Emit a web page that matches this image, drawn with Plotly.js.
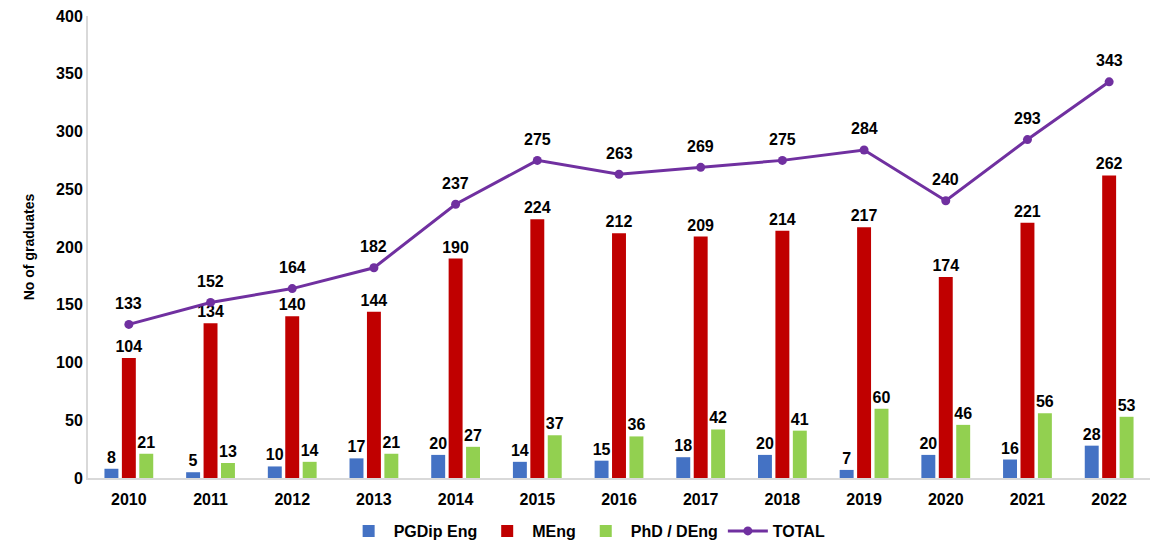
<!DOCTYPE html>
<html><head><meta charset="utf-8">
<script src="https://cdn.plot.ly/plotly-3.0.1.min.js"></script>
<style>html,body{margin:0;padding:0;background:#fff}#chart{width:1152px;height:545px}</style>
</head><body><div id="chart"></div>
<script>
const years = ['2010','2011','2012','2013','2014','2015','2016','2017','2018','2019','2020','2021','2022'];
const pgdip = [8,5,10,17,20,14,15,18,20,7,20,16,28];
const meng = [104,134,140,144,190,224,212,209,214,217,174,221,262];
const phd = [21,13,14,21,27,37,36,42,41,60,46,56,53];
const total = [133,152,164,182,237,275,263,269,275,284,240,293,343];

const F = 'Liberation Sans, Arial, sans-serif';
const lblFont = {family: F, size: 16, color: '#000', weight: 'bold'};
function barTrace(name, vals, color){
  return {type:'bar', name:name, x:years, y:vals, marker:{color:color},
    text: vals.map(String), textposition:'outside', textfont:lblFont,
    constraintext:'none', cliponaxis:false};
}
const data = [
  barTrace('PGDip Eng', pgdip, '#4472C4'),
  barTrace('MEng', meng, '#C00000'),
  barTrace('PhD / DEng', phd, '#92D050'),
  {type:'scatter', mode:'lines+markers', name:'TOTAL', x:years, y:total,
   line:{color:'#7030A0', width:3}, marker:{color:'#7030A0', size:9}, cliponaxis:false}
];
const annotations = years.map((yr, i) => ({
  x: i, y: total[i], xref:'x', yref:'y', text: String(total[i]), showarrow:false,
  yshift: 21, font: lblFont
}));
const layout = {
  width:1152, height:545,
  margin:{l:88, r:2, t:16, b:67, autoexpand:false},
  paper_bgcolor:'#fff', plot_bgcolor:'#fff',
  barmode:'group', bargap:0.36, bargroupgap:0.2,
  font:{family:F, color:'#000'},
  xaxis:{type:'category', categoryarray:years, range:[-0.5, years.length-0.5],
    tickmode:'array', tickvals:years, ticktext:years,
    showgrid:false, showline:true, linecolor:'#d9d9d9', linewidth:2, ticks:'',
    ticklabelstandoff:6, automargin:false,
    tickfont:{family:F, size:16, color:'#000', weight:'bold'}},
  yaxis:{range:[0,400], dtick:50, showgrid:false, showline:true, linecolor:'#d9d9d9', linewidth:2,
    zeroline:false, ticks:'', automargin:false, tickfont:{family:F, size:16, color:'#000', weight:'bold'},
    title:{text:'No of graduates', font:{family:F, size:14, color:'#000', weight:'bold'}, standoff:18}},
  legend:{orientation:'h', x:0.47, xanchor:'center', y:-0.078, yanchor:'top', itemwidth:40,
    font:{family:F, size:16, color:'#000', weight:'bold'}, traceorder:'normal'},
  annotations: annotations,
  showlegend:true
};
Plotly.newPlot('chart', data, layout, {displayModeBar:false, staticPlot:true});
</script></body></html>
